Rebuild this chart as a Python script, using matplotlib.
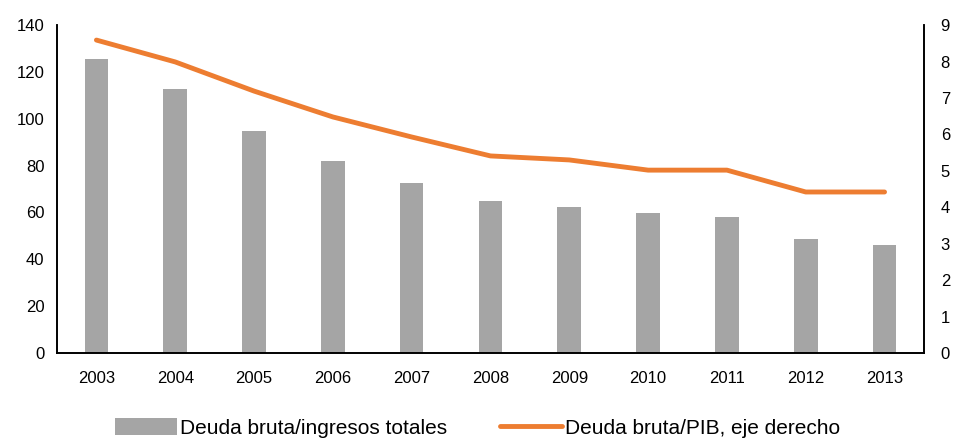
import matplotlib.pyplot as plt
import numpy as np

plt.rcParams['font.family'] = ['Liberation Sans', 'DejaVu Sans']

years = ["2003", "2004", "2005", "2006", "2007", "2008", "2009", "2010", "2011", "2012", "2013"]
deuda_ingresos = [125.5, 112.7, 94.7, 82.0, 72.6, 64.9, 62.3, 59.8, 58.0, 48.7, 46.1]
deuda_pib = [8.59, 7.99, 7.19, 6.48, 5.93, 5.41, 5.30, 5.02, 5.02, 4.42, 4.42]

fig = plt.figure(figsize=(9.55, 4.41), dpi=100)
ax = fig.add_axes([0.0597, 0.1995, 0.9078, 0.7435])
ax2 = ax.twinx()

x = np.arange(len(years))
ax.bar(x, deuda_ingresos, width=0.3, color="#a5a5a5", label="Deuda bruta/ingresos totales")
ax2.plot(x, deuda_pib, color="#ed7d31", lw=3.5, solid_capstyle="round",
         label="Deuda bruta/PIB, eje derecho")

ax.set_xlim(-0.5, len(years) - 0.5)
ax.set_ylim(0, 140)
ax.set_yticks(range(0, 141, 20))
ax2.set_ylim(0, 9)
ax2.set_yticks(range(0, 10))
ax.set_xticks(x)
ax.set_xticklabels(years)

for a in (ax, ax2):
    a.spines["top"].set_visible(False)
    for s in ("left", "right", "bottom"):
        a.spines[s].set_linewidth(1.2)
    a.tick_params(length=0, labelsize=12)
ax.tick_params(axis="x", pad=13)
ax.tick_params(axis="y", pad=9)
ax2.tick_params(axis="y", pad=12)

h1, l1 = ax.get_legend_handles_labels()
h2, l2 = ax2.get_legend_handles_labels()
fig.legend(h1 + h2, l1 + l2, loc="lower center", bbox_to_anchor=(0.5, -0.035), ncol=2,
           frameon=False, fontsize=15, handlelength=3.0, handleheight=0.9,
           columnspacing=2.5, handletextpad=0.15)

fig.savefig("out.png", dpi=100)
